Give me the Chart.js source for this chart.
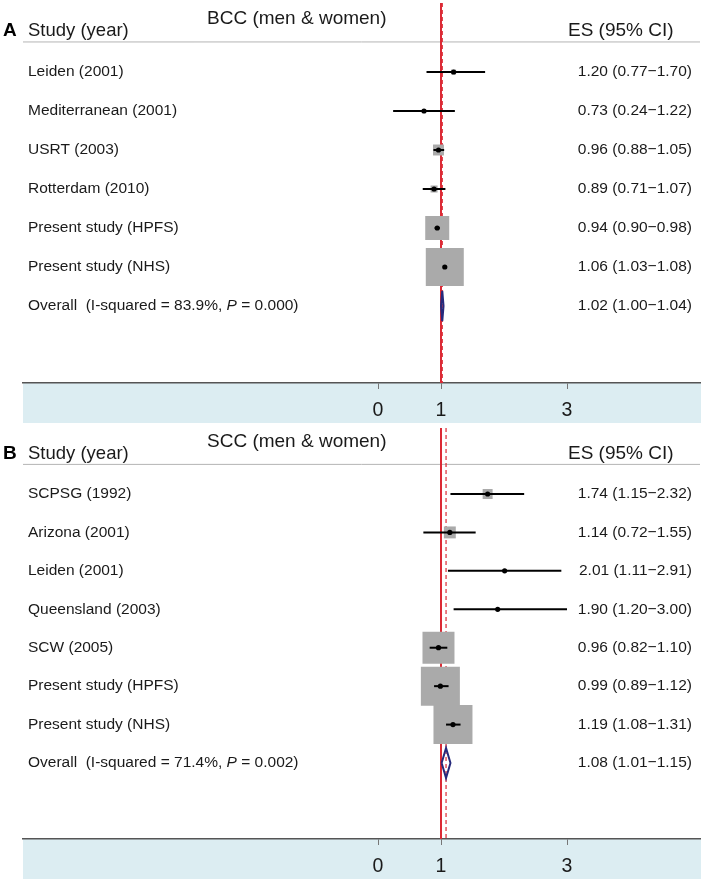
<!DOCTYPE html>
<html><head><meta charset="utf-8">
<script src="https://cdn.jsdelivr.net/npm/chart.js@4.4.1/dist/chart.umd.min.js"></script>
<style>
html,body{margin:0;padding:0;background:#fff;}
#wrap{position:relative;width:701px;height:886px;overflow:hidden;}
.pn{position:absolute;left:0;width:701px;}
canvas{display:block;}
</style></head><body>
<div id="wrap">
<div class="pn" style="top:0;height:425px"><canvas id="cA" width="701" height="425"></canvas></div>
<div class="pn" style="top:425px;height:461px"><canvas id="cB" width="701" height="461"></canvas></div>
</div>
<script>
// ---------- DATA ----------
const xTicks = [0, 1, 3];

const studiesA = ["Leiden (2001)", "Mediterranean (2001)", "USRT (2003)", "Rotterdam (2010)", "Present study (HPFS)", "Present study (NHS)"];
const esA = [1.20, 0.73, 0.96, 0.89, 0.94, 1.06];
const loA = [0.77, 0.24, 0.88, 0.71, 0.90, 1.03];
const hiA = [1.70, 1.22, 1.05, 1.07, 0.98, 1.08];
const weightA = [1.1, 0.4, 5.4, 2.2, 25.9, 64.9];
const overallA = [1.02, 1.00, 1.04];
const hetA = ["83.9%", "0.000"];

const studiesB = ["SCPSG (1992)", "Arizona (2001)", "Leiden (2001)", "Queensland (2003)", "SCW (2005)", "Present study (HPFS)", "Present study (NHS)"];
const esB = [1.74, 1.14, 2.01, 1.90, 0.96, 0.99, 1.19];
const loB = [1.15, 0.72, 1.11, 1.20, 0.82, 0.89, 1.08];
const hiB = [2.32, 1.55, 2.91, 3.00, 1.10, 1.12, 1.31];
const weightB = [2.3, 3.3, 0.1, 0.1, 23.7, 35.2, 35.2];
const overallB = [1.08, 1.01, 1.15];
const hetB = ["71.4%", "0.002"];

// ---------- STYLE / LAYOUT ----------
const F = "'Liberation Sans', Arial, Helvetica, sans-serif";
const X_MIN = -5.635, X_MAX = 5.111;
const RED = '#dc2a35', NAVY = '#262a7c', BOX = '#aaaaaa', BAND = '#dcedf2';

function fmt(v){ return v.toFixed(2); }

function makePanel(id, letter, title, studies, es, lo, hi, wt, ov, het, yMin, yMax, boxK, padBottom) {
  const n = studies.length;
  const datasets = [];
  // header rule
  datasets.push({type:'line', data:[{x:X_MIN,y:-0.77},{x:X_MAX,y:-0.77}], borderColor:'#b4b4b4', borderWidth:1, pointRadius:0, order:9});
  // null line at 1
  datasets.push({type:'line', data:[{x:1,y:yMin},{x:1,y:yMax}], borderColor:RED, borderWidth:2, pointRadius:0, order:8});
  // overall dashed line
  datasets.push({type:'line', data:[{x:ov[0],y:yMin},{x:ov[0],y:yMax}], borderColor:RED, borderWidth:1.2, borderDash:[4,3], pointRadius:0, order:7});
  // weight boxes
  datasets.push({type:'scatter', data:es.map((v,i)=>({x:v,y:i})), pointStyle:'rect',
    pointRadius: wt.map(w => boxK*Math.sqrt(w)/Math.SQRT2), backgroundColor:BOX, borderWidth:0, order:6});
  // CI lines
  for (let i=0;i<n;i++) {
    datasets.push({type:'line', data:[{x:lo[i],y:i},{x:hi[i],y:i}], borderColor:'#000', borderWidth:2, pointRadius:0, order:4});
  }
  // point estimates
  datasets.push({type:'scatter', data:es.map((v,i)=>({x:v,y:i})), pointStyle:'circle', pointRadius:2.6,
    backgroundColor:'#000', borderWidth:0, order:3});
  // overall diamond
  const h = 0.39;
  datasets.push({type:'line', data:[{x:ov[1],y:n},{x:ov[0],y:n-h},{x:ov[2],y:n},{x:ov[0],y:n+h},{x:ov[1],y:n}],
    borderColor:NAVY, borderWidth:2, pointRadius:0, fill:false, tension:0, order:1});

  const textPlugin = {
    id:'txt'+letter,
    beforeDraw(chart){
      const {ctx, chartArea:a} = chart;
      ctx.save();
      ctx.fillStyle = BAND;
      ctx.fillRect(a.left, a.bottom, a.right-a.left+1, 40);
      ctx.restore();
    },
    afterDraw(chart){
      const ctx = chart.ctx, ys = chart.scales.y;
      ctx.save();
      ctx.fillStyle = '#1a1a1a';
      ctx.textBaseline = 'middle';
      const hy = ys.getPixelForValue(-1.05), ty = ys.getPixelForValue(-1.355);
      ctx.textAlign = 'left';
      ctx.font = `bold 19px ${F}`; ctx.fillStyle='#000'; ctx.fillText(letter, 3, hy);
      ctx.fillStyle = '#1a1a1a';
      ctx.font = `18.5px ${F}`; ctx.fillText('Study (year)', 28, hy);
      ctx.font = `19px ${F}`; ctx.fillText(title, 207, ty);
      ctx.font = `19px ${F}`; ctx.fillText('ES (95% CI)', 568, hy);
      ctx.font = `15.5px ${F}`;
      for (let i=0;i<n;i++) {
        const yy = ys.getPixelForValue(i);
        ctx.textAlign='left'; ctx.fillText(studies[i], 28, yy);
        ctx.textAlign='right'; ctx.fillText(fmt(es[i])+' ('+fmt(lo[i])+'\u2212'+fmt(hi[i])+')', 692, yy);
      }
      const oy = ys.getPixelForValue(n);
      ctx.textAlign='left';
      const s1 = 'Overall  (I-squared = '+het[0]+', ';
      let x = 28;
      ctx.fillText(s1, x, oy); x += ctx.measureText(s1).width;
      ctx.font = `italic 15.5px ${F}`; ctx.fillText('P', x, oy); x += ctx.measureText('P').width;
      ctx.font = `15.5px ${F}`; ctx.fillText(' = '+het[1]+')', x, oy);
      ctx.textAlign='right';
      ctx.fillText(fmt(ov[0])+' ('+fmt(ov[1])+'\u2212'+fmt(ov[2])+')', 692, oy);
      ctx.restore();
    }
  };

  new Chart(document.getElementById(id), {
    type:'scatter',
    data:{datasets},
    options:{
      responsive:false, animation:false, devicePixelRatio:1,
      layout:{autoPadding:false, padding:{left:23, right:1, top:3, bottom:padBottom}},
      plugins:{legend:{display:false}, tooltip:{enabled:false}, title:{display:false}},
      scales:{
        x:{type:'linear', min:X_MIN, max:X_MAX,
          afterBuildTicks:s=>{ s.ticks = xTicks.map(v=>({value:v})); },
          afterFit:s=>{ s.height = 42; },
          grid:{drawOnChartArea:false, drawTicks:true, tickLength:6, color:'#777', lineWidth:1},
          border:{display:true, color:'#555', width:1.5},
          ticks:{font:{family:F, size:19.5}, color:'#1a1a1a', padding:10, maxRotation:0, autoSkip:false,
            callback:v=>String(v)}
        },
        y:{type:'linear', reverse:true, min:yMin, max:yMax, display:false}
      }
    },
    plugins:[textPlugin]
  });
}

makePanel('cA','A','BCC (men & women)', studiesA, esA, loA, hiA, weightA, overallA, hetA, -1.769, 7.974, 38/Math.sqrt(64.9), 0);
makePanel('cB','B','SCC (men & women)', studiesB, esB, loB, hiB, weightB, overallB, hetB, -1.717, 8.977, 39/Math.sqrt(35.2), 5);
</script>
</body></html>
